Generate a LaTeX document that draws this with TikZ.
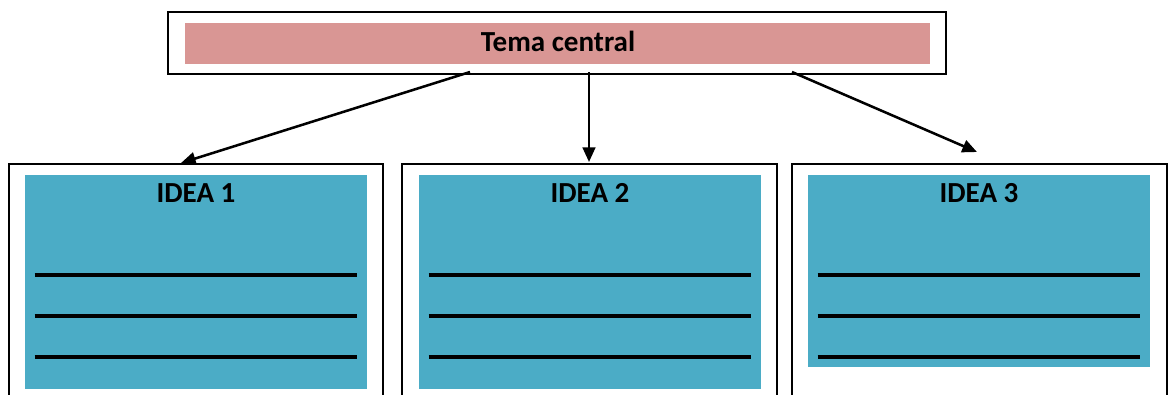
\documentclass[tikz,border=0pt]{standalone}
\usepackage{fontspec}
\setmainfont{Carlito}
\usetikzlibrary{arrows.meta}
\definecolor{pinkfill}{HTML}{D99694}
\definecolor{cyanfill}{HTML}{4BACC6}
\begin{document}
\begin{tikzpicture}[x=0.75pt,y=-0.75pt,
  frame/.style={draw=black,line width=1.5pt,fill=white,rectangle,inner sep=0pt},
  pinkbox/.style={fill=pinkfill,rectangle,inner sep=0pt},
  cyanbox/.style={fill=cyanfill,rectangle,inner sep=0pt},
  label/.style={inner sep=0pt,font=\fontsize{21.8}{25}\selectfont\bfseries},
  blank/.style={line width=2.8pt,black},
  conn/.style={line width=1.9pt,-{Triangle[length=11pt,width=9.5pt]}}]
\useasboundingbox (0,0) rectangle (1168,394);
\clip (0,0) rectangle (1168,394);
% top
\node[frame,minimum width={778*0.75pt},minimum height={62*0.75pt}] (top) at (557,43) {};
\node[pinkbox,minimum width={745*0.75pt},minimum height={41*0.75pt}] (toppink) at (557.5,43.5) {};
\node[label] (toptext) at (558,41) {Tema central};
% boxes
\node[frame,minimum width={374*0.75pt},minimum height={260*0.75pt}] (b1) at (196,294) {};
\node[frame,minimum width={375*0.75pt},minimum height={260*0.75pt}] (b2) at (589.5,294) {};
\node[frame,minimum width={375*0.75pt},minimum height={260*0.75pt}] (b3) at (979.5,294) {};
\node[cyanbox,minimum width={342*0.75pt},minimum height={214*0.75pt}] (c1) at (196,282) {};
\node[cyanbox,minimum width={342*0.75pt},minimum height={214*0.75pt}] (c2) at (590,282) {};
\node[cyanbox,minimum width={342*0.75pt},minimum height={192*0.75pt}] (c3) at (979,271) {};
\node[label] (i1) at (196,193) {IDEA 1};
\node[label] (i2) at (590,193) {IDEA 2};
\node[label] (i3) at (979,193) {IDEA 3};
% blank lines
\foreach \c in {c1,c2,c3}{
  \foreach \yy in {275,316,357}{
    \draw[blank] ([xshift=7.5pt]\c.west |- 0,\yy) -- ([xshift=-7.5pt]\c.east |- 0,\yy);
  }
}
% connectors
\coordinate (s1) at (470,72);
\coordinate (s2) at (589,72);
\coordinate (s3) at (792,72);
\coordinate (e1) at (181,163);
\coordinate (e2) at (589,162);
\coordinate (e3) at (977,152);
\draw[conn] (s1) -- (e1);
\draw[conn] (s2) -- (e2);
\draw[conn] (s3) -- (e3);
\end{tikzpicture}
\end{document}
